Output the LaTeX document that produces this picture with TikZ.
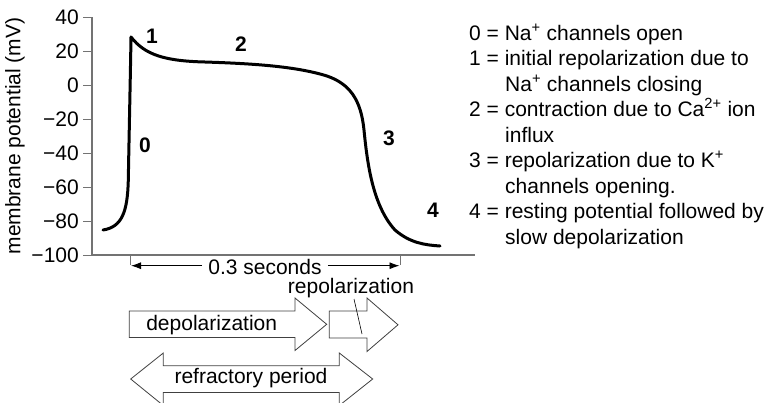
\documentclass[tikz,border=0pt]{standalone}
\usepackage{fontspec}
\setmainfont{Liberation Sans}
\usetikzlibrary{arrows.meta}
\begin{document}
\begin{tikzpicture}[x=1pt,y=-1pt,
  txt/.style={font=\fontsize{21}{24}\selectfont, inner sep=0pt},
  num/.style={font=\fontsize{21}{24}\selectfont\bfseries, inner sep=0pt},
  axisline/.style={draw=black!55, line width=1.3pt},
  tickmark/.style={draw=black!55, line width=1pt},
  apcurve/.style={line width=3pt, line join=round, line cap=round},
  blockarrow/.style={draw=black!75, line width=0.8pt, fill=white},
  dimline/.style={line width=0.9pt, -{Latex[length=10pt,width=7pt]}}
]
\useasboundingbox (0,0) rectangle (771,402);
\clip (0,0) rectangle (771,402);

% axes
\draw[axisline] (92,17) -- (92,255) -- (475,255);
\foreach \v/\t in {40/40,20/20,0/0,-20/−20,-40/−40,-60/−60,-80/−80,-100/−100}{
  \draw[tickmark] (83,{85-1.7*\v}) -- (92,{85-1.7*\v});
  \node[txt, anchor=east] (tick\t) at (79,{85-1.7*\v}) {\t};
}
\node[txt, rotate=90] (ylabel) at (15,136) {membrane potential (mV)};

% action potential
\draw[apcurve] (103,230) .. controls (122,227) and (127.5,212) .. (128.3,180)
  .. controls (129,140) and (130.5,70) .. (131,37)
  .. controls (145,55) and (165,61) .. (205,62)
  .. controls (250,63.5) and (295,66) .. (327,76)
  .. controls (350,84) and (361,100) .. (364,130)
  .. controls (367,160) and (372,205) .. (395,230)
  .. controls (410,243) and (425,245) .. (440,246);

% phase numbers
\node[num] (p0) at (145,145) {0};
\node[num] (p1) at (152,36) {1};
\node[num] (p2) at (241,44) {2};
\node[num] (p3) at (389,138) {3};
\node[num] (p4) at (433,210) {4};

% legend
\node[txt, anchor=base west] (l0) at (469,40) {0 = Na\textsuperscript{+} channels open};
\node[txt, anchor=base west] (l1) at (469,65.5) {1 = initial repolarization due to};
\node[txt, anchor=base west] (l1b) at (505,91) {Na\textsuperscript{+} channels closing};
\node[txt, anchor=base west] (l2) at (469,116.5) {2 = contraction due to Ca\textsuperscript{2+} ion};
\node[txt, anchor=base west] (l2b) at (505,142) {influx};
\node[txt, anchor=base west] (l3) at (469,167.5) {3 = repolarization due to K\textsuperscript{+}};
\node[txt, anchor=base west] (l3b) at (505,193) {channels opening.};
\node[txt, anchor=base west] (l4) at (469,218.5) {4 = resting potential followed by};
\node[txt, anchor=base west] (l4b) at (505,244) {slow depolarization};

% 0.3 s duration
\draw[tickmark] (130,255) -- (130,265);
\draw[tickmark] (400.7,255) -- (400.7,265);
\coordinate (sl) at (131,265.7);
\coordinate (sr) at (399.5,265.7);
\node[txt] (sec) at (265,267) {0.3 seconds};
\draw[dimline] ([xshift=-6pt]sec.west |- sl) -- (sl);
\draw[dimline] ([xshift=6pt]sec.east |- sr) -- (sr);

% phase arrows
\draw[blockarrow] (129.3,311) -- (295,311) -- (295,298) -- (326.7,324.3)
  -- (295,350.5) -- (295,337.5) -- (129.3,337.5) -- cycle;
\node[txt] (depol) at (211.7,325) {depolarization};
\draw[blockarrow] (329.3,311) -- (367,311) -- (367,298) -- (398,324.8)
  -- (367,351.5) -- (367,338) -- (329.3,338) -- cycle;
\node[txt] (repol) at (351,288) {repolarization};
\coordinate (repolpt) at (362,334);
\draw[line width=0.6pt] (354,299) -- (repolpt);
\draw[blockarrow] (130.7,379) -- (163.3,353) -- (163.3,365.7) -- (339.3,365.7)
  -- (339.3,353) -- (372.7,379) -- (339.3,405.5) -- (339.3,392.5)
  -- (163.3,392.5) -- (163.3,405.5) -- cycle;
\node[txt] (refr) at (251,378) {refractory period};
\end{tikzpicture}
\end{document}
